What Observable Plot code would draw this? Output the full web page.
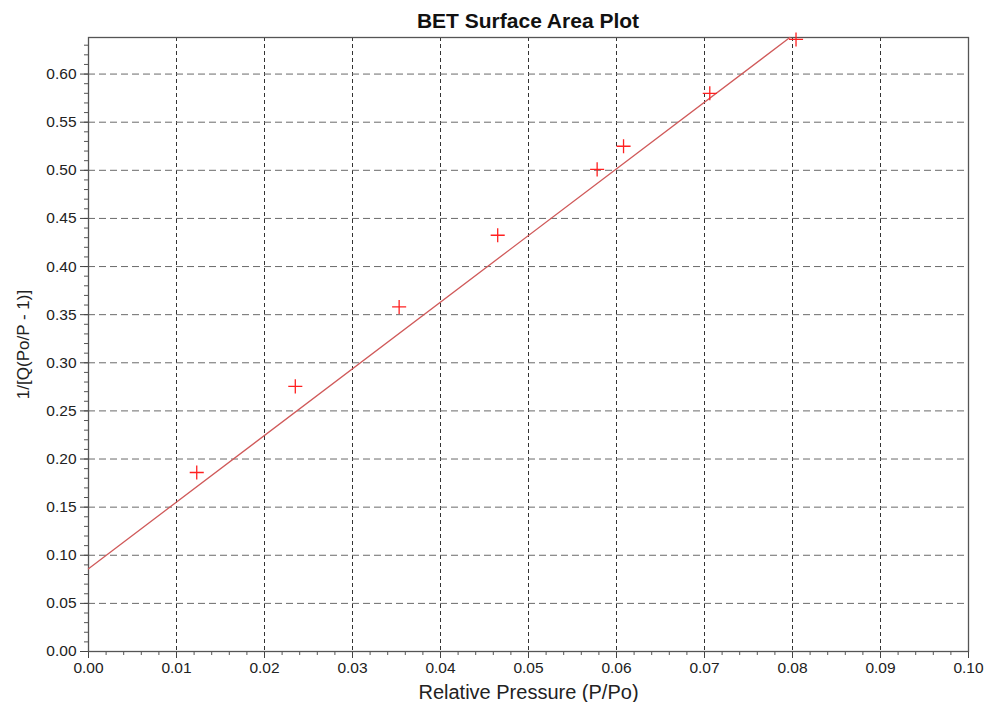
<!DOCTYPE html>
<html>
<head>
<meta charset="utf-8">
<script src="https://cdn.jsdelivr.net/npm/d3@7"></script>
<script src="https://cdn.jsdelivr.net/npm/@observablehq/plot@0.6"></script>
<style>
  body { margin: 0; background: #fff; font-family: "Liberation Sans", Arial, sans-serif; }
  #title { height: 30px; width: 880px; padding-left: 88px; text-align: center; font-weight: bold; font-size: 21px; line-height: 42px; color: #111; white-space: nowrap; }
</style>
</head>
<body>
<div id="title">BET Surface Area Plot</div>
<div id="chart"></div>
<script>
// Measured points
const pressure = [0.0123, 0.0235, 0.0353, 0.0465, 0.0578, 0.0608, 0.0706, 0.0804];
const bet = [0.186, 0.2755, 0.358, 0.4325, 0.501, 0.525, 0.580, 0.636];
// Fitted line endpoints
const fitX = [0, 0.0797];
const fitY = [0.086, 0.638];
// Ticks
const xTicks = [0, 0.01, 0.02, 0.03, 0.04, 0.05, 0.06, 0.07, 0.08, 0.09, 0.10];
const yTicks = [0, 0.05, 0.10, 0.15, 0.20, 0.25, 0.30, 0.35, 0.40, 0.45, 0.50, 0.55, 0.60];
const xMinor = d3.range(0, 51).map(i => i * 0.002);
const yMinor = d3.range(0, 64).map(i => i * 0.01);

const points = pressure.map((x, i) => ({x, y: bet[i]}));
const fit = fitX.map((x, i) => ({x, y: fitY[i]}));

const chart = Plot.plot({
  width: 985,
  height: 672,
  marginTop: 7,
  marginBottom: 51,
  marginLeft: 88,
  marginRight: 17,
  style: { fontFamily: "Liberation Sans, Arial, sans-serif", fontSize: "15px", color: "#222" },
  x: { domain: [0, 0.10] },
  y: { domain: [0, 0.638] },
  marks: [
    Plot.gridX(xTicks.slice(1, -1), { stroke: "#333", strokeOpacity: 1, strokeDasharray: "4,3", strokeWidth: 1 }),
    Plot.gridY(yTicks.slice(1), { stroke: "#6a6a6a", strokeOpacity: 1, strokeDasharray: "7,4", strokeWidth: 1 }),
    Plot.axisX(xMinor, { tickSize: 4, text: null, stroke: "#555", label: null }),
    Plot.axisY(yMinor, { tickSize: 4, text: null, stroke: "#555", label: null }),
    Plot.axisX(xTicks, { tickSize: 7, tickFormat: d3.format(".2f"), tickPadding: 3, stroke: "#444", fontSize: 15.5, fill: "#222", label: "Relative Pressure (P/Po)", labelAnchor: "center", labelArrow: "none", labelOffset: 47 }),
    Plot.axisY(yTicks, { tickSize: 8, tickFormat: d3.format(".2f"), tickPadding: 4, stroke: "#444", fontSize: 15.5, fill: "#222", label: "1/[Q(Po/P - 1)]", labelAnchor: "center", labelArrow: "none", labelOffset: 72 }),
    Plot.frame({ stroke: "#555", strokeWidth: 1.3 }),
    Plot.line(fit, { x: "x", y: "y", stroke: "#d05a5a", strokeWidth: 1.3 }),
    Plot.dot(points, { x: "x", y: "y", symbol: "plus", r: 4.6, stroke: "#ff2020", strokeWidth: 1.3 })
  ]
});
chart.querySelectorAll('[aria-label="x-axis label"] text').forEach(t => { t.style.fontSize = "20px"; });
chart.querySelectorAll('[aria-label="y-axis label"] text').forEach(t => { t.style.fontSize = "17px"; });
document.getElementById("chart").appendChild(chart);
</script>
</body>
</html>
